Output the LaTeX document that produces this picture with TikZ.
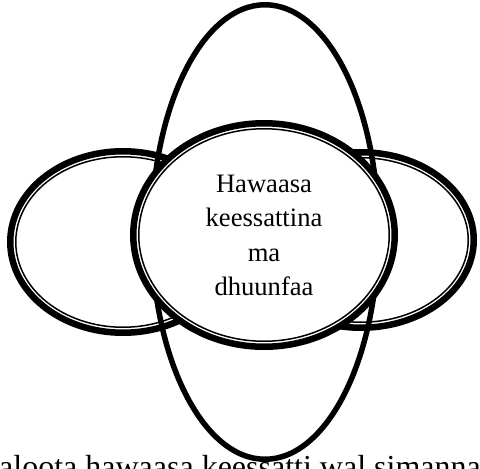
\documentclass[tikz,border=0pt]{standalone}
\usepackage{fontspec}
\setmainfont{Liberation Serif}
\begin{document}
\begin{tikzpicture}[x=1pt,y=-1pt,
  thickline/.style={line width=6.5pt},
  thinline/.style={line width=1.5pt},
  vline/.style={line width=5.5pt},
  ctext/.style={font=\fontsize{26.6}{32}\selectfont, anchor=base, inner sep=0pt},
  btext/.style={font=\fontsize{32}{38}\selectfont, anchor=base west, inner sep=0pt}]
\useasboundingbox (0,0) rectangle (480,469);
\clip (0,0) rectangle (480,469);
% tall vertical ellipse
\draw[vline] (265,232) ellipse [x radius=113.25pt, y radius=227.25pt];
% left ellipse
\draw[thickline] (123,242) ellipse [x radius=112.75pt, y radius=90.75pt];
\draw[thinline] (123,242) ellipse [x radius=107.25pt, y radius=85.25pt];
% right ellipse
\draw[thickline] (361,240) ellipse [x radius=112.75pt, y radius=87.75pt];
\draw[thinline] (361,240) ellipse [x radius=107.25pt, y radius=82.25pt];
% center ellipse
\fill[white] (264,235) ellipse [x radius=131pt, y radius=112pt];
\draw[thickline] (264,235) ellipse [x radius=130.75pt, y radius=111.75pt];
\draw[thinline] (264,235) ellipse [x radius=125.25pt, y radius=106.25pt];
% center text
\node[ctext] (t1) at (264,192) {Hawaasa};
\node[ctext] (t2) at (264,226.5) {keessattina};
\node[ctext] (t3) at (264,261) {ma};
\node[ctext] (t4) at (264,295.5) {dhuunfaa};
% bottom text
\node[btext] (bt) at (-1,477) {aloota hawaasa keessatti wal simanna};
\end{tikzpicture}
\end{document}
